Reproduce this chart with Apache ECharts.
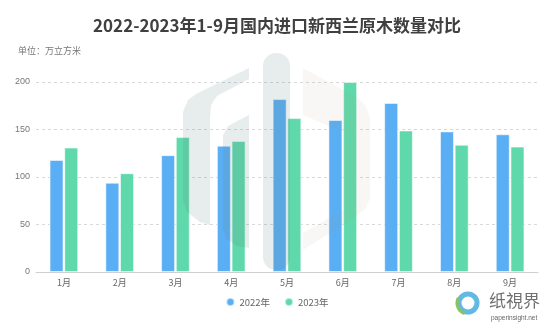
<!DOCTYPE html>
<html>
<head>
<meta charset="utf-8">
<script src="https://cdn.jsdelivr.net/npm/echarts@6/dist/echarts.min.js"></script>
<style>html,body{margin:0;padding:0;background:#fff}#c{width:554px;height:328px}</style>
</head>
<body>
<div id="c"></div>
<script>
var categories = ['1月','2月','3月','4月','5月','6月','7月','8月','9月'];
var values2022 = [118, 94, 123, 133, 182, 160, 178, 148, 145];
var values2023 = [131, 104, 142, 138, 162, 200, 149, 134, 132];
var seriesNames = ['2022年','2023年'];
var yTicks = [0, 50, 100, 150, 200];

var chart = echarts.init(document.getElementById('c'), null, {renderer:'canvas'});
var wm = 'rgba(95,125,125,0.15)';
var wm2 = 'rgba(170,150,130,0.08)';
chart.setOption({
  animation:false,
  color:['#5aaef4','#5fd9ab'],
  title:[{
    text:'2022-2023年1-9月国内进口新西兰原木数量对比',
    left:'center', top:12,
    textStyle:{fontSize:17, fontWeight:'bold', color:'#404040', fontFamily:'Noto Sans CJK SC'}
  },{
    text:'单位：万立方米', left:13, top:41,
    textStyle:{fontSize:9, fontWeight:'normal', color:'#777', fontFamily:'Noto Sans CJK SC'}
  }],
  legend:{
    data:seriesNames, bottom:16, left:'center', icon:'circle', itemWidth:8, itemHeight:8, itemGap:14,
    textStyle:{fontSize:9.5, color:'#666', fontFamily:'Noto Sans CJK SC'}
  },
  grid:{left:36, right:16, top:82, bottom:56},
  xAxis:{
    type:'category', data:categories,
    axisLine:{lineStyle:{color:'#cfcfcf'}},
    axisTick:{alignWithLabel:true, length:3, lineStyle:{color:'#cfcfcf'}},
    axisLabel:{fontSize:9, color:'#666', margin:6, fontFamily:'Noto Sans CJK SC'}
  },
  yAxis:{
    type:'value', min:yTicks[0], max:yTicks[yTicks.length-1], interval:yTicks[1]-yTicks[0],
    axisLine:{show:false}, axisTick:{show:false},
    axisLabel:{fontSize:9, color:'#777', margin:6},
    splitLine:{lineStyle:{type:[3,3], color:'#d8d8d8'}}
  },
  series:[{
    name:seriesNames[0], type:'bar', data:values2022, barWidth:14, barGap:'5%',
    itemStyle:{borderColor:'rgba(255,255,255,0.55)', borderWidth:1}
  },{
    name:seriesNames[1], type:'bar', data:values2023, barWidth:14,
    itemStyle:{borderColor:'rgba(255,255,255,0.55)', borderWidth:1}
  }],
  graphic:[
    {type:'polygon', z:100, silent:true, shape:{points:[[249,68],[249,79],[217,96],[211,105],[210,118],[210,225],[200,222],[187,212],[183,200],[183,112],[188,100],[196,94]]}, style:{fill:wm}},
    {type:'polygon', z:100, silent:true, shape:{points:[[249,115],[249,248],[236,246],[226,238],[223,228],[223,135],[228,126]]}, style:{fill:wm}},
    {type:'rect', z:100, silent:true, shape:{x:263, y:53, width:27, height:217, r:13}, style:{fill:wm}},
    {type:'polygon', z:100, silent:true, shape:{points:[[303,68],[358,98],[366,106],[370,118],[370,198],[366,208],[358,215],[303,250],[303,233],[343,210],[343,132],[303,115]]}, style:{fill:wm2}},
    {type:'circle', z:100, silent:true, shape:{cx:468, cy:303, r:9}, style:{fill:'none', stroke:'#62b9e3', lineWidth:5}},
    {type:'arc', z:100, silent:true, shape:{cx:468, cy:303, r:11, startAngle:Math.PI*0.6, endAngle:Math.PI*1.15}, style:{fill:'none', stroke:'#8cc063', lineWidth:3}},
    {type:'text', z:100, silent:true, left:489, top:292, style:{text:'纸視界', fontSize:17, fill:'#707070', fontFamily:'Noto Sans CJK SC'}},
    {type:'text', z:100, silent:true, left:491, top:315, style:{text:'paperinsight.net', fontSize:6.5, fill:'#666', fontFamily:'Liberation Sans'}}
  ]
});
</script>
</body>
</html>
